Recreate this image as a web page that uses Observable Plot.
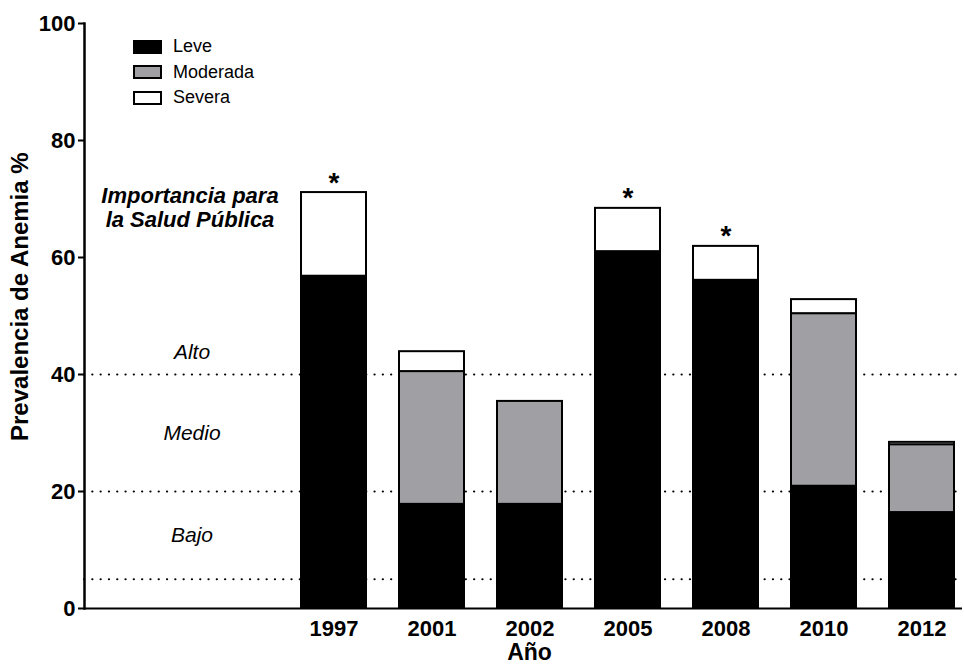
<!DOCTYPE html>
<html>
<head>
<meta charset="utf-8">
<script src="https://cdn.jsdelivr.net/npm/d3@7"></script>
<script src="https://cdn.jsdelivr.net/npm/@observablehq/plot@0.6"></script>
<style>
  html, body { margin: 0; padding: 0; background: #fff; }
  #wrap { position: relative; width: 964px; height: 666px; font-family: "Liberation Sans", Arial, sans-serif; }
  #legend { position: absolute; left: 133px; top: 34px; font-size: 18px; color: #000; }
  #legend .row { display: flex; align-items: center; height: 25.5px; }
  #legend .sw { width: 25px; height: 10px; border: 2px solid #000; margin-right: 11px; }
  svg g[aria-label="y-axis tick label"] text, svg g[aria-label="x-axis tick label"] text { font-weight: bold; }
</style>
</head>
<body>
<div id="wrap"></div>
<script>
const categories = ["pad1", "pad2", "1997", "2001", "2002", "2005", "2008", "2010", "2012"];
const years = ["1997", "2001", "2002", "2005", "2008", "2010", "2012"];
const series = ["Leve", "Moderada", "Severa"];
const leve = [56.8, 17.8, 17.8, 61.0, 56.1, 20.9, 16.4];
const moderada = [0, 22.7, 17.6, 0, 0, 29.5, 11.6];
const severa = [14.3, 3.4, 0, 7.4, 5.8, 2.4, 0.4];
const starred = ["1997", "2005", "2008"];
const yTicks = [0, 20, 40, 60, 80, 100];
const thresholds = [5, 20, 40];
const levelLabels = [{text: "Alto", y: 43.8}, {text: "Medio", y: 29.9}, {text: "Bajo", y: 12.5}];
const importanceLabel = {text: "Importancia para\nla Salud Pública", y: 68.6};
const yLabel = {text: "Prevalencia de Anemia %", y: 53.3};
const colors = ["#000000", "#a09fa4", "#ffffff"];

const rows = [];
years.forEach((yr, i) => {
  [leve[i], moderada[i], severa[i]].forEach((v, j) => {
    if (v > 0) rows.push({year: yr, type: series[j], value: v});
  });
});
const totals = years.map((yr, i) => ({year: yr, total: leve[i] + moderada[i] + severa[i]}));
const stars = totals.filter(d => starred.includes(d.year));

const chart = Plot.plot({
  width: 964,
  height: 666,
  marginTop: 23,
  marginBottom: 58,
  marginLeft: 84,
  marginRight: 2,
  style: {fontFamily: "'Liberation Sans', Arial, sans-serif", background: "#fff", color: "#000"},
  x: {type: "band", domain: categories, range: [84, 975], paddingInner: 0.333, paddingOuter: 0.1667, align: 0.5},
  y: {domain: [0, 100], range: [608, 23]},
  color: {domain: series, range: colors},
  marks: [
    Plot.ruleY(thresholds, {stroke: "#000", strokeWidth: 2.2, strokeDasharray: "0.1,8.2", strokeLinecap: "round"}),
    Plot.barY(rows, {x: "year", y: "value", fill: "type", stroke: "#000", strokeWidth: 2, order: series}),
    Plot.text(stars, {x: "year", y: "total", text: () => "*", dy: -10, fontSize: 28, fontWeight: "bold"}),
    Plot.text(levelLabels, {x: () => "pad1", y: "y", text: "text", dx: 54, fontSize: 21, fontStyle: "italic"}),
    Plot.text([importanceLabel], {x: () => "pad1", y: "y", text: "text", dx: 52, fontSize: 22, fontStyle: "italic", fontWeight: "bold", lineHeight: 1.1}),
    Plot.axisY({ticks: yTicks, tickSize: 6, tickPadding: 3, fontSize: 22, strokeWidth: 2, label: null}),
    Plot.axisX({tickSize: 0, tickPadding: 12, fontSize: 22, label: null, tickFormat: d => years.includes(d) ? d : ""}),
    Plot.ruleY([0], {stroke: "#000", strokeWidth: 2}),
    Plot.frame({anchor: "left", stroke: "#000", strokeWidth: 2.5}),
    Plot.text([yLabel], {frameAnchor: "left", y: "y", textAnchor: "middle", rotate: -90, dx: -64, fontSize: 24, fontWeight: "bold", text: "text"}),
    Plot.text(["Año"], {frameAnchor: "bottom", lineAnchor: "middle", dy: 44, dx: 6, fontSize: 23, fontWeight: "bold", text: d => d})
  ]
});

const wrap = document.getElementById("wrap");
wrap.appendChild(chart);
const legend = document.createElement("div");
legend.id = "legend";
series.forEach((s, i) => {
  const row = document.createElement("div");
  row.className = "row";
  const sw = document.createElement("div");
  sw.className = "sw";
  sw.style.background = colors[i];
  const lab = document.createElement("span");
  lab.textContent = s;
  row.appendChild(sw);
  row.appendChild(lab);
  legend.appendChild(row);
});
wrap.appendChild(legend);
</script>
</body>
</html>
